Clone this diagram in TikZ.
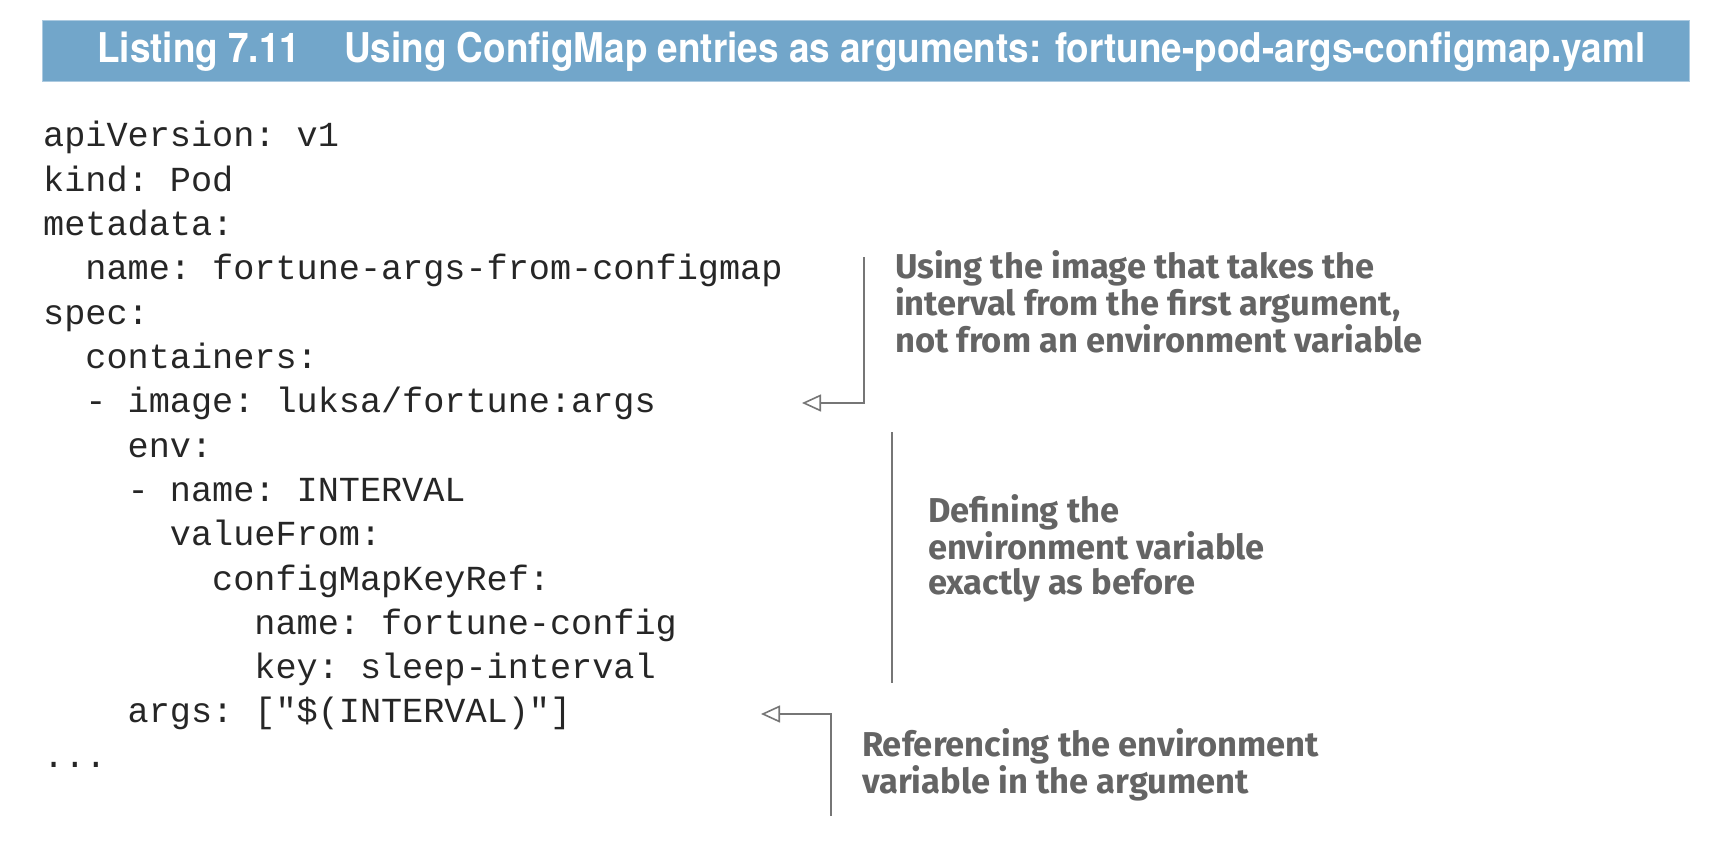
\documentclass[tikz,border=0pt]{standalone}
\usepackage{fontspec}
\usetikzlibrary{arrows.meta}

\newfontfamily\codefont{Liberation Mono}
\newfontfamily\notefont{Fira Sans}
\newfontfamily\titlefont[FakeStretch=0.9]{TeX Gyre Heros}

\definecolor{bannerblue}{RGB}{114,166,202}
\definecolor{bannerrim}{RGB}{172,202,224}
\definecolor{notegray}{RGB}{100,100,100}
\definecolor{linegray}{RGB}{118,118,118}

\begin{document}
\begin{tikzpicture}[
  x=1pt, y=-1pt,
  code/.style={anchor=base west, inner sep=0pt, text=black!85, font=\codefont\frenchspacing\fontsize{35.2}{44}\selectfont},
  note/.style={anchor=base west, inner sep=0pt, align=left, text=notegray, font=\notefont\bfseries\fontsize{34.5}{34.5}\selectfont},
  callout/.style={draw=linegray, line width=1.6pt},
  tip/.style={callout, -{Triangle[open, length=19pt, width=17pt]}}
]
\useasboundingbox (0,0) rectangle (1722,856);

%======================
% BANNER
%======================

\fill[bannerblue, draw=bannerrim, line width=1pt] (42,21) rectangle (1689,82);
\node[anchor=base west, inner sep=0pt, text=white, font=\titlefont\bfseries\fontsize{41}{44}\selectfont] (title) at (97,63)
  {Listing 7.11\hspace{44pt}Using ConfigMap entries as arguments: fortune-pod-args-configmap.yaml};

%======================
% YAML LISTING
%======================

\node[code] (api)      at (43,147)            {apiVersion: v1};
\node[code] (kind)     at (43,191.3)          {kind: Pod};
\node[code] (meta)     at (43,235.6)          {metadata:};
\node[code] (podname)  at (43+2*21.12,279.9)  {name: fortune-args-from-configmap};
\node[code] (spec)     at (43,324.2)          {spec:};
\node[code] (cont)     at (43+2*21.12,368.5)  {containers:};
\node[code] (image)    at (43+2*21.12,412.8)  {- image: luksa/fortune:args};
\node[code] (env)      at (43+4*21.12,457.1)  {env:};
\node[code] (envname)  at (43+4*21.12,501.4)  {- name: INTERVAL};
\node[code] (valfrom)  at (43+6*21.12,545.7)  {valueFrom:};
\node[code] (keyref)   at (43+8*21.12,590)    {configMapKeyRef:};
\node[code] (cmname)   at (43+10*21.12,634.3) {name: fortune-config};
\node[code] (cmkey)    at (43+10*21.12,678.6) {key: sleep-interval};
\node[code] (args)     at (43+4*21.12,722.9)  {args: ["\$(INTERVAL)"]};
\node[code] (dots)     at (43,767.2)          {...};

%======================
% CALLOUTS
%======================

% image from first argument (base = last line)
\node[note] (note1) at (895,352) {Using the image that takes the\\interval from the first argument,\\not from an environment variable};
\coordinate (n1top) at (864,257);
\coordinate (n1end) at (802,403);
\draw[tip] (n1top) |- (n1end);

% env variable bracket
\node[note] (note2) at (928,594) {Defining the\\environment variable\\exactly as before};
\coordinate (n2top) at (892,432);
\coordinate (n2bot) at (892,683);
\draw[callout] (n2top) -- (n2bot);

% referencing in args
\node[note] (note3) at (862,793) {Referencing the environment\\variable in the argument};
\coordinate (n3bot) at (831,816);
\coordinate (n3end) at (761,714);
\draw[tip] (n3bot) |- (n3end);

\end{tikzpicture}
\end{document}
